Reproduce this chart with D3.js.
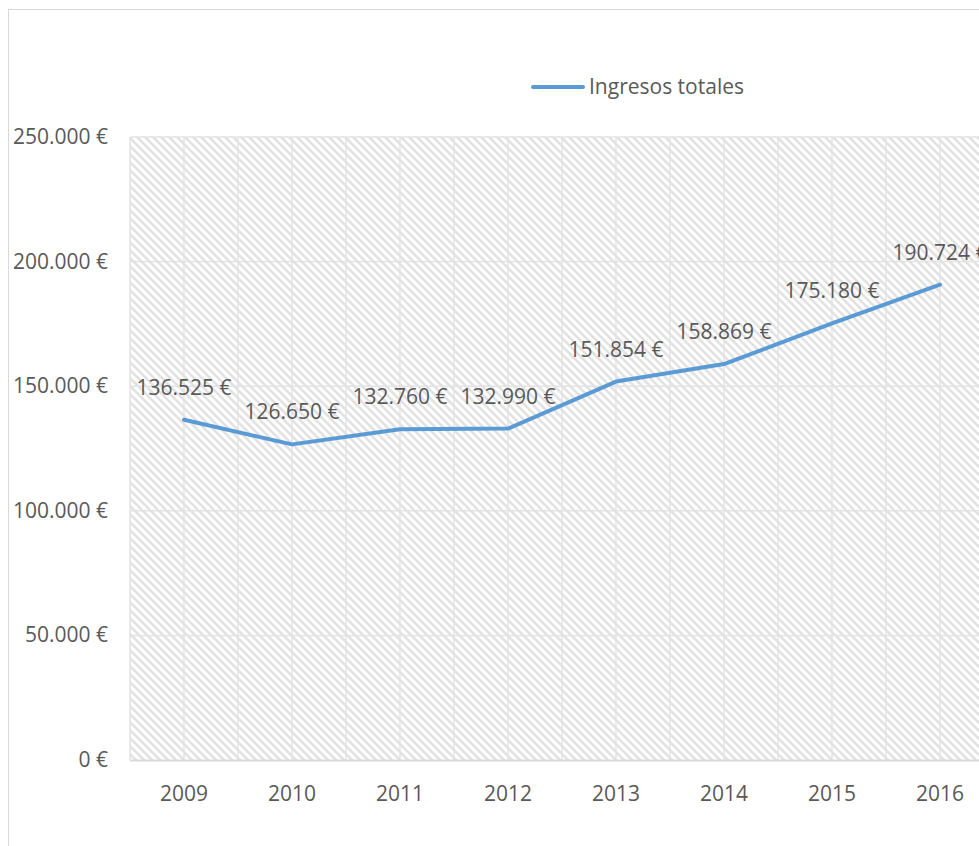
<!DOCTYPE html>
<html><head><meta charset="utf-8">
<script src="https://cdn.jsdelivr.net/npm/d3@7"></script>
<style>body{margin:0;background:#fff;overflow:hidden}svg{display:block}</style>
</head><body>
<script>
const years = ["2009","2010","2011","2012","2013","2014","2015","2016"];
const ingresos = [136525,126650,132760,132990,151854,158869,175180,190724];
const yTicks = [0,50000,100000,150000,200000,250000];
const seriesName = "Ingresos totales";

const W=979,H=846;
const svg=d3.select("body").append("svg").attr("width",W).attr("height",H);
const font="'Open Sans', sans-serif";
const fs=21;
const txt="#595959";

// chart border
svg.append("rect").attr("x",8.5).attr("y",9.5).attr("width",1200).attr("height",1200)
  .attr("fill","#fff").attr("stroke","#d9d9d9").attr("stroke-width",1);

const defs=svg.append("defs");
const pat=defs.append("pattern").attr("id","hatch").attr("patternUnits","userSpaceOnUse")
  .attr("width",8).attr("height",8);
pat.append("rect").attr("width",8).attr("height",8).attr("fill","#fff");
pat.append("path").attr("d","M-2,-2 L10,10 M-2,6 L2,10 M6,-2 L10,2").attr("stroke","#e2e2e2").attr("stroke-width",2.6);

const x=d3.scalePoint().domain(years).range([184,940]).padding(0);
const step=x.step();
const left=x(years[0])-step/2, right=x(years[years.length-1])+step/2;
const y=d3.scaleLinear().domain([0,250000]).range([760,137]);

svg.append("rect").attr("x",left).attr("y",y(250000)).attr("width",right-left).attr("height",y(0)-y(250000))
  .attr("fill","url(#hatch)");

// horizontal gridlines
svg.selectAll(".hg").data(yTicks.filter(d=>d>0)).enter().append("line")
  .attr("x1",left).attr("x2",right).attr("y1",d=>y(d)).attr("y2",d=>y(d))
  .attr("stroke","#e3e3e3").attr("stroke-width",1.5);
// vertical gridlines at category centers and boundaries
const vx=[];
years.forEach(yr=>{vx.push(x(yr)-step/2);vx.push(x(yr));});
vx.push(right);
svg.selectAll(".vg").data(vx).enter().append("line")
  .attr("x1",d=>d).attr("x2",d=>d).attr("y1",y(250000)).attr("y2",y(0))
  .attr("stroke","#e3e3e3").attr("stroke-width",1.5);

// x axis line
svg.append("line").attr("x1",left).attr("x2",right).attr("y1",y(0)+0.5).attr("y2",y(0)+0.5)
  .attr("stroke","#d9d9d9").attr("stroke-width",2);

const fmt=v=>d3.format(",")(v).replace(/,/g,".")+" €";

// y labels
svg.selectAll(".yl").data(yTicks).enter().append("text")
  .attr("x",108).attr("y",d=>y(d)+7).attr("text-anchor","end")
  .attr("font-family",font).attr("font-size",fs).attr("fill",txt).text(d=>fmt(d));
// x labels
svg.selectAll(".xl").data(years).enter().append("text")
  .attr("x",d=>x(d)).attr("y",801).attr("text-anchor","middle")
  .attr("font-family",font).attr("font-size",fs).attr("fill",txt).text(d=>d);

const data=years.map((yr,i)=>({yr,v:ingresos[i]}));
svg.append("path").datum(data)
  .attr("d",d3.line().x(d=>x(d.yr)).y(d=>y(d.v)))
  .attr("fill","none").attr("stroke","#5b9bd5").attr("stroke-width",4).attr("stroke-linejoin","round").attr("stroke-linecap","round");

svg.selectAll(".dl").data(data).enter().append("text")
  .attr("x",d=>x(d.yr)).attr("y",d=>y(d.v)-25).attr("text-anchor","middle")
  .attr("font-family",font).attr("font-size",fs).attr("fill",txt).text(d=>fmt(d.v));

// legend
svg.append("line").attr("x1",533).attr("x2",583).attr("y1",87).attr("y2",87)
  .attr("stroke","#5b9bd5").attr("stroke-width",4).attr("stroke-linecap","round");
svg.append("text").attr("x",589).attr("y",94).attr("font-family",font).attr("font-size",fs)
  .attr("fill",txt).text(seriesName);
</script>
</body></html>
